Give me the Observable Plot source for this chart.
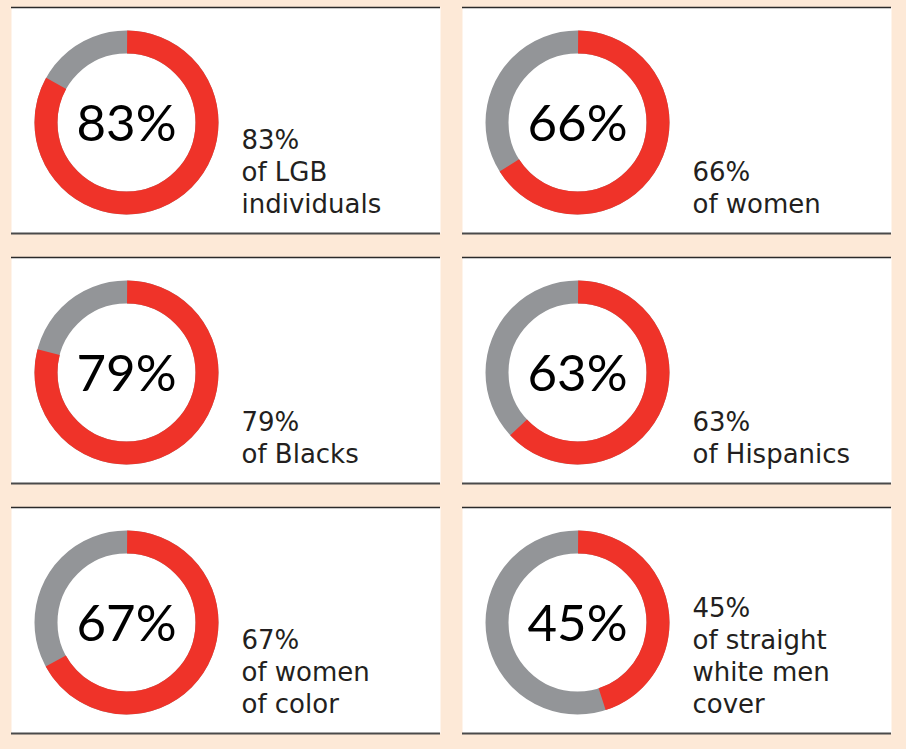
<!DOCTYPE html>
<html>
<head>
<meta charset="utf-8">
<script src="https://cdn.jsdelivr.net/npm/d3@7"></script>
<script src="https://cdn.jsdelivr.net/npm/@observablehq/plot@0.6"></script>
<style>
  html, body { margin: 0; padding: 0; background: #fde9d7; }
  #chart svg { display: block; }
</style>
</head>
<body>
<div id="chart"></div>
<script>
// ---- data ----
const values = [83, 66, 79, 63, 67, 45];
const groups = [
  "of LGB\nindividuals",
  "of women",
  "of Blacks",
  "of Hispanics",
  "of women\nof color",
  "of straight\nwhite men\ncover"
];
const cols = [0, 1, 0, 1, 0, 1];
const rows = [0, 0, 1, 1, 2, 2];

const data = values.map((v, i) => ({value: v, group: groups[i], col: cols[i], row: rows[i]}));

// ---- layout (panel units) ----
const W = 429, H = 226;           // panel size
const CX = 115, CY = 115;         // donut centre inside panel
const R = 80.5, RW = 23;          // ring mid-radius and thickness
const TX = 230, TB = 205;         // side label x and last baseline
const C = 2 * Math.PI * R;

const RED = "#ef3329", GREY = "#939598";

const ringMarks = data.map(d => {
  const a = C * d.value / 100;
  return Plot.dot([d], {
    fx: "col", fy: "row", x: () => CX, y: () => CY, r: R,
    fill: "none", stroke: RED, strokeWidth: RW,
    strokeDasharray: `${a} ${C - a}`, strokeDashoffset: C / 4
  });
});

const chart = Plot.plot({
  width: 906, height: 749,
  marginLeft: 11, marginRight: 15, marginTop: 7, marginBottom: 16,
  style: {background: "#fde9d7", overflow: "visible"},
  fx: {domain: [0, 1], padding: 22 / 451, axis: null},
  fy: {domain: [0, 1, 2], padding: 24 / 250, axis: null},
  x: {domain: [0, W], axis: null},
  y: {domain: [0, H], reverse: true, axis: null},
  marks: [
    Plot.frame({fill: "white", stroke: "none"}),
    Plot.ruleY([0], {stroke: "#2a2a2a", strokeWidth: 1.5}),
    Plot.ruleY([H], {stroke: "#4a4a4a", strokeWidth: 2}),
    Plot.dot(data, {fx: "col", fy: "row", x: () => CX, y: () => CY, r: R,
      fill: "none", stroke: GREY, strokeWidth: RW}),
    ...ringMarks,
    Plot.text(data, {fx: "col", fy: "row", x: () => CX, y: () => CY,
      text: d => `${d.value}%`, fontSize: 51, dy: 2, fill: "#000",
      fontFamily: "Lato", textAnchor: "middle"}),
    Plot.text(data, {fx: "col", fy: "row", x: () => TX, y: () => TB,
      text: d => `${d.value}%\n${d.group}`, fontSize: 26, lineHeight: 32 / 26,
      lineAnchor: "bottom", textAnchor: "start", fill: "#231f20",
      fontFamily: "DejaVu Sans"})
  ]
});
document.getElementById("chart").appendChild(chart);
</script>
</body>
</html>
